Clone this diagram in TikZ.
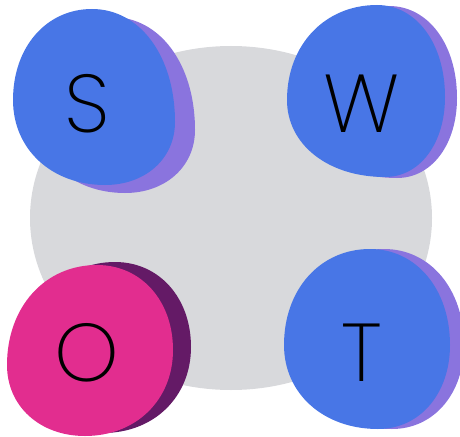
\documentclass[tikz,border=0pt]{standalone}
\usepackage{fontspec}
\setmainfont{Poppins}[UprightFont=* ExtraLight]
\definecolor{swotblue}{HTML}{4876E6}
\definecolor{swotlilac}{HTML}{8A74DE}
\definecolor{swotpink}{HTML}{E22D8F}
\definecolor{swotplum}{HTML}{641A66}
\definecolor{swotgray}{HTML}{D8D9DC}
% kapka: horni, pravy, dolni a levy bod
\newcommand{\kk}{0.58}
\newcommand{\kapka}[8]{(#1,#2)
    .. controls ({#1+\kk*(#3-#1)},#2) and (#3,{#4-\kk*(#4-#2)}) .. (#3,#4)
    .. controls (#3,{#4+\kk*(#6-#4)}) and ({#5+\kk*(#3-#5)},#6) .. (#5,#6)
    .. controls ({#5-\kk*(#5-#7)},#6) and (#7,{#8+\kk*(#6-#8)}) .. (#7,#8)
    .. controls (#7,{#8-\kk*(#8-#2)}) and ({#1-\kk*(#1-#7)},#2) .. (#1,#2) -- cycle}

\begin{document}
\begin{tikzpicture}[x=1pt,y=-1pt,
    letter/.style={font=\fontsize{82}{90}\selectfont, text=black, inner sep=0pt}]
    \useasboundingbox (0,0) rectangle (460,436);

    % podklad
    \fill[swotgray] (231,218) ellipse [x radius=201pt, y radius=172pt];

    % S
    \begin{scope}[shift={(20,8)}]
        \fill[swotlilac] \kapka{92}{9}{175}{122}{105}{185}{13}{100};
    \end{scope}
    \fill[swotblue] \kapka{92}{9}{175}{122}{105}{185}{13}{100};
    \node[letter] (s) at (87,104) {S};

    % W
    \begin{scope}[shift={(12,1)}]
        \fill[swotlilac] \kapka{377}{5}{445}{97}{385}{177}{287}{100};
    \end{scope}
    \fill[swotblue] \kapka{377}{5}{445}{97}{385}{177}{287}{100};
    \node[letter] (w) at (362,104) {W};

    % O
    \begin{scope}[shift={(18,-3)}]
        \fill[swotplum] \kapka{97}{265}{173}{350}{85}{436}{7}{365};
    \end{scope}
    \fill[swotpink] \kapka{97}{265}{173}{350}{85}{436}{7}{365};
    \node[letter] (o) at (87,353) {O};

    % T
    \begin{scope}[shift={(14,0)}]
        \fill[swotlilac] \kapka{370}{249}{450}{345}{378}{429}{284}{345};
    \end{scope}
    \fill[swotblue] \kapka{370}{249}{450}{345}{378}{429}{284}{345};
    \node[letter] (t) at (362,353) {T};
\end{tikzpicture}
\end{document}
